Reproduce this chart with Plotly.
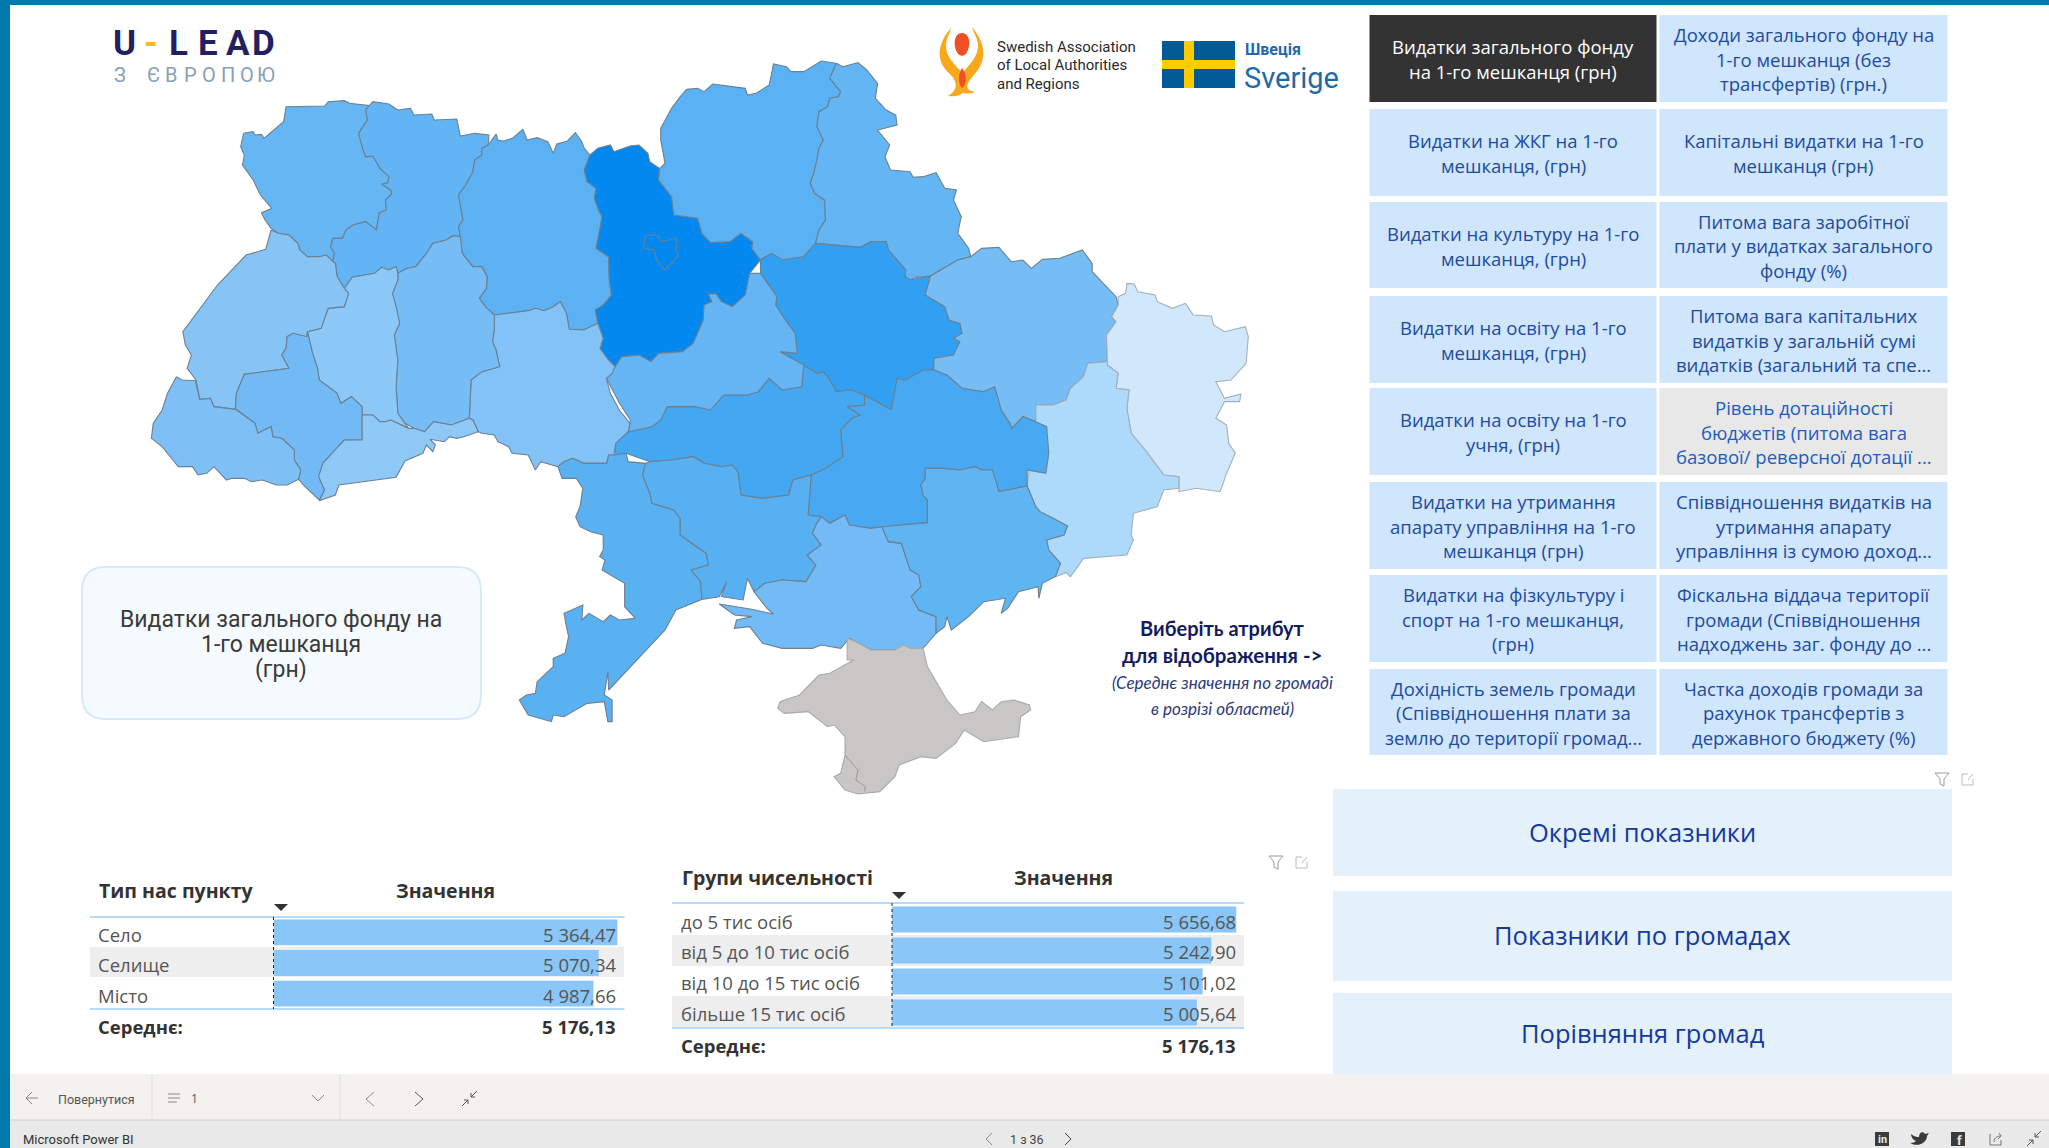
import plotly.graph_objects as go

W, H = 2049, 1148

# ---------- data ----------
settlement_types = ["Село", "Селище", "Місто"]
settlement_values = [5364.47, 5070.34, 4987.66]
population_groups = ["до 5 тис осіб", "від 5 до 10 тис осіб", "від 10 до 15 тис осіб", "більше 15 тис осіб"]
population_values = [5656.68, 5242.90, 5101.02, 5005.64]
average_value = 5176.13

left_buttons = [
    ["Видатки загального фонду", "на 1-го мешканця (грн)"],
    ["Видатки на ЖКГ на 1-го", "мешканця, (грн)"],
    ["Видатки на культуру на 1-го", "мешканця, (грн)"],
    ["Видатки на освіту на 1-го", "мешканця, (грн)"],
    ["Видатки на освіту на 1-го", "учня, (грн)"],
    ["Видатки на утримання", "апарату управління на 1-го", "мешканця (грн)"],
    ["Видатки на фізкультуру і", "спорт на 1-го мешканця,", "(грн)"],
    ["Дохідність земель громади", "(Співвідношення плати за", "землю до території громад..."],
]
right_buttons = [
    ["Доходи загального фонду на", "1-го мешканця (без", "трансфертів) (грн.)"],
    ["Капітальні видатки на 1-го", "мешканця (грн)"],
    ["Питома вага заробітної", "плати у видатках загального", "фонду (%)"],
    ["Питома вага капітальних", "видатків у загальній сумі", "видатків (загальний та спе..."],
    ["Рівень дотаційності", "бюджетів (питома вага", "базової/ реверсної дотації ..."],
    ["Співвідношення видатків на", "утримання апарату", "управління із сумою доход..."],
    ["Фіскальна віддача території", "громади (Співвідношення", "надходжень заг. фонду до ..."],
    ["Частка доходів громади за", "рахунок трансфертів з", "державного бюджету (%)"],
]
big_buttons = ["Окремі показники", "Показники по громадах", "Порівняння громад"]


def L(pts):
    return [(130 + x / 2.8, 40 + y / 3) for x, y in pts]


def R(pts):
    return [(600 + x / 2.306, 40 + y / 3) for x, y in pts]


regions = {
    "Волинська": ("#66b6f4", L([(318,280),(345,275),(350,285),(368,283),(375,295),(430,245),(437,200),(545,198),(555,185),(600,182),(615,190),(670,197),(660,210),(665,240),(640,280),(650,320),(660,350),(680,348),(700,385),(725,410),(722,428),(705,432),(730,450),(733,462),(715,480),(718,510),(698,518),(690,570),(660,545),(625,555),(605,570),(595,595),(568,595),(562,620),(572,640),(568,665),(550,645),(530,650),(497,650),(475,630),(470,610),(445,585),(415,580),(395,565),(378,540),(368,518),(397,505),(365,465),(345,420),(315,375),(320,345),(310,320)])),
    "Рівненська": ("#62b4f4", L([(670,197),(680,185),(725,192),(750,210),(785,205),(795,225),(845,222),(852,240),(915,237),(925,288),(965,280),(1005,285),(1003,315),(985,325),(985,345),(965,360),(960,395),(940,435),(920,465),(925,490),(932,540),(920,560),(925,590),(905,587),(885,600),(848,610),(830,640),(800,680),(775,685),(750,700),(745,680),(725,690),(705,682),(685,700),(622,712),(600,745),(580,710),(575,670),(568,665),(572,640),(562,620),(568,595),(595,595),(605,570),(625,555),(660,545),(690,570),(698,518),(718,510),(715,480),(733,462),(730,450),(705,432),(722,428),(725,410),(700,385),(680,348),(660,350),(650,320),(640,280),(665,240),(660,210)])),
    "Житомирська": ("#5cb1f3", L([(1003,315),(1025,282),(1030,300),(1045,303),(1070,295),(1100,268),(1112,300),(1140,293),(1170,305),(1185,340),(1195,312),(1225,303),(1247,278),(1265,305),(1272,325),(1288,345),(1272,390),(1280,425),(1305,445),(1300,475),(1312,510),(1322,530),(1315,570),(1305,625),(1340,650),(1342,720),(1348,765),(1325,795),(1303,810),(1310,850),(1270,870),(1230,868),(1222,820),(1205,785),(1185,800),(1160,812),(1135,805),(1115,812),(1020,825),(995,800),(978,775),(998,745),(1000,710),(985,680),(960,680),(930,640),(925,590),(920,560),(932,540),(925,490),(920,465),(940,435),(960,395),(965,360),(985,345),(985,325)])),
    "Київська": ("#0288ef", L([(1288,345),(1310,325),(1345,315),(1355,335),(1400,318),(1425,315),(1450,340),(1455,365),(1482,385)]) + R([(135,420),(165,470),(170,525),(225,535),(235,580),(255,608),(300,605),(325,580),(352,605),(350,625),(370,660),(345,700),(335,765),(305,800),(280,785),(268,762),(250,762),(258,785),(240,795),(238,840),(215,910),(190,935),(135,940),(118,965),(90,945),(50,950),(35,980),(20,960),(0,930)]) + L([(1325,895),(1310,850),(1303,810),(1325,795),(1348,765),(1342,720),(1340,650),(1305,625),(1315,570),(1322,530),(1312,510),(1300,475),(1305,445),(1280,425),(1272,390)])),
    "м. Київ": ("#0288ef", R([(105,585),(135,585),(140,605),(178,595),(175,625),(180,650),(150,690),(130,660),(125,630),(100,625)])),
    "Чернігівська": ("#5ab1f3", R([(138,385),(150,370),(140,300),(140,265),(165,205),(185,170),(200,148),(225,145),(240,155),(260,132),(335,145),(340,165),(360,160),(390,135),(395,105),(400,72),(430,80),(440,95),(470,95),(510,63),(545,70),(530,115),(555,155),(550,170),(530,175),(525,200),(505,215),(500,260),(515,300),(505,325),(500,360),(493,400),(485,430),(495,460),(518,480),(520,540),(505,570),(497,610),(470,650),(420,660),(395,640),(370,660),(350,625),(352,605),(325,580),(300,605),(255,608),(235,580),(225,535),(170,525),(165,470),(135,420)])),
    "Сумська": ("#64b5f4", R([(545,70),(560,80),(595,68),(615,90),(640,130),(635,175),(660,210),(682,225),(685,255),(640,270),(668,315),(657,350),(670,390),(715,395),(722,412),(745,410),(775,398),(795,445),(822,450),(815,480),(833,530),(825,580),(850,625),(855,650),(825,660),(800,680),(762,708),(730,712),(715,720),(703,710),(705,690),(665,630),(660,605),(625,605),(600,622),(540,615),(497,610),(505,570),(520,540),(518,480),(495,460),(485,430),(493,400),(500,360),(505,325),(515,300),(500,260),(505,215),(525,200),(530,175),(550,170),(555,155),(530,115)])),
    "Полтавська": ("#31a0f2", R([(497,610),(540,615),(600,622),(625,605),(660,605),(665,630),(705,690),(703,710),(715,720),(762,708),(750,765),(795,800),(805,840),(830,850),(835,880),(815,895),(830,905),(815,945),(770,955),(768,990),(745,990),(705,1020),(685,1015),(672,1110),(610,1065),(580,1050),(545,1055),(530,1020),(515,995),(500,1000),(470,975),(415,935),(455,940),(450,880),(425,835),(405,795),(408,770),(370,700),(370,660),(395,640),(420,660),(470,650)])),
    "Харківська": ("#77bdf5", R([(762,708),(800,680),(825,660),(855,650),(880,625),(920,622),(948,665),(975,660),(995,685),(1020,658),(1060,655),(1112,630),(1135,670),(1135,695),(1165,735),(1190,770),(1195,795),(1180,830),(1190,845),(1168,885),(1170,965),(1125,970),(1115,1010),(1085,1045),(1075,1080),(1045,1095),(1005,1095),(1005,1145),(975,1130),(950,1165),(945,1150),(925,1110),(910,1040),(885,1055),(835,1045),(800,1005),(770,990),(770,955),(815,945),(830,905),(815,895),(835,880),(830,850),(805,840),(795,800),(750,765)])),
    "Луганська": ("#d0e7fc", R([(1195,770),(1212,760),(1215,730),(1232,732),(1240,755),(1280,765),(1285,785),(1320,805),(1350,790),(1368,825),(1410,828),(1415,855),(1440,875),(1488,860),(1495,890),(1490,970),(1455,1020),(1420,1025),(1440,1075),(1478,1062),(1475,1085),(1440,1085),(1420,1135),(1445,1155),(1450,1210),(1465,1240),(1445,1300),(1430,1355),(1375,1345),(1335,1355),(1335,1310),(1300,1305),(1260,1235),(1245,1210),(1225,1180),(1215,1105),(1220,1050),(1190,1045),(1195,1000),(1170,975),(1170,965),(1168,885),(1190,845),(1180,830),(1195,795)])),
    "Донецька": ("#addafb", R([(1005,1095),(1045,1095),(1075,1080),(1085,1045),(1115,1010),(1125,970),(1170,965),(1170,975),(1195,1000),(1190,1045),(1220,1050),(1215,1105),(1225,1180),(1245,1210),(1260,1235),(1300,1305),(1335,1310),(1335,1345),(1300,1350),(1285,1400),(1230,1420),(1225,1485),(1230,1500),(1215,1545),(1115,1555),(1085,1610),(1075,1598),(1050,1610),(1062,1570),(1035,1530),(1030,1500),(1070,1485),(1078,1458),(1045,1435),(1015,1415),(1005,1400),(985,1338),(990,1288),(1028,1295),(1032,1255),(1020,1200),(1030,1170),(1005,1150)])),
    "Дніпропетровська": ("#48a9f2", R([(672,1110),(685,1015),(705,1020),(745,990),(770,990),(800,1005),(835,1045),(885,1055),(910,1040),(925,1110),(945,1150),(950,1165),(975,1130),(1005,1145),(1030,1160),(1035,1240),(1028,1300),(985,1290),(985,1338),(920,1355),(905,1290),(880,1290),(865,1280),(830,1290),(790,1285),(750,1285),(750,1315),(740,1335),(745,1365),(755,1380),(755,1448),(650,1460),(625,1465),(575,1455),(565,1425),(530,1450),(510,1430),(480,1425),(487,1305),(520,1285),(560,1250),(555,1170),(580,1135),(600,1125),(570,1100),(610,1095),(610,1065)])),
    "Кіровоградська": ("#43a7f1", R([(50,1180),(120,1160),(140,1140),(155,1100),(220,1100),(255,1110),(285,1065),(340,1065),(365,1055),(390,1015),(420,1050),(465,1040),(470,975),(500,1000),(515,995),(530,1020),(545,1055),(580,1050),(610,1065),(610,1095),(570,1100),(600,1125),(580,1135),(555,1170),(560,1250),(520,1285),(487,1305),(445,1320),(435,1365),(375,1375),(325,1365),(318,1295),(305,1275),(280,1280),(240,1270),(215,1250),(165,1260),(115,1265),(60,1240),(35,1245),(35,1195)])),
    "Черкаська": ("#65b5f4", R([(35,980),(50,950),(90,945),(118,965),(135,940),(190,935),(215,910),(238,840),(240,795),(258,785),(250,762),(268,762),(280,785),(305,800),(335,765),(345,700),(370,700),(408,770),(405,795),(425,835),(450,880),(455,940),(415,935),(470,975),(465,1040),(420,1050),(390,1015),(365,1055),(340,1065),(285,1065),(255,1110),(220,1100),(155,1100),(140,1140),(120,1160),(65,1175),(70,1140),(45,1090),(25,1040),(15,1015)])),
    "Вінницька": ("#82c2f6", L([(1020,825),(1115,812),(1135,805),(1160,812),(1185,800),(1205,785),(1222,820),(1230,868),(1270,870),(1310,850),(1325,895),(1316,925),(1340,960),(1358,980),(1350,1000),(1334,1015),(1345,1060),(1370,1110),(1400,1150),(1395,1175),(1360,1210),(1355,1245),(1340,1245),(1335,1270),(1270,1270),(1240,1255),(1215,1265),(1198,1280),(1150,1265),(1135,1290),(1115,1245),(1070,1240),(1060,1220),(1030,1205),(1020,1185),(985,1180),(975,1175),(960,1140),(950,1135),(955,1020),(985,995),(1035,980),(1025,930),(1015,905),(1020,870)])),
    "Хмельницька": ("#76bcf5", L([(750,700),(775,685),(800,680),(830,640),(848,610),(885,600),(905,587),(925,590),(930,640),(960,680),(985,680),(1000,710),(998,745),(978,775),(995,800),(1020,825),(1020,870),(1015,905),(1025,930),(1035,980),(985,995),(955,1020),(950,1135),(900,1155),(850,1145),(825,1175),(795,1165),(770,1150),(750,1120),(745,1040),(750,960),(740,885),(755,850),(745,800),(735,760),(750,720)])),
    "Тернопільська": ("#8cc8f7", L([(600,745),(622,712),(685,700),(705,682),(725,690),(745,680),(750,700),(750,720),(735,760),(745,800),(755,850),(740,885),(750,960),(745,1040),(750,1120),(770,1150),(780,1165),(730,1140),(715,1145),(700,1145),(680,1125),(650,1125),(650,1100),(620,1070),(590,1090),(580,1060),(560,1045),(530,1020),(525,985),(510,935),(497,875),(535,865),(555,805),(600,800),(612,760)])),
    "Львівська": ("#86c4f6", L([(395,570),(415,580),(445,585),(470,610),(475,630),(497,650),(530,650),(550,645),(568,665),(575,670),(580,710),(600,745),(612,760),(600,800),(555,805),(535,865),(497,875),(495,890),(457,880),(440,890),(437,925),(425,945),(445,985),(320,1003),(298,1060),(295,1108),(235,1100),(225,1075),(195,1078),(185,1020),(160,985),(172,945),(155,915),(148,875),(245,735),(325,645),(380,628)])),
    "Івано-Франківська": ("#71baf5", L([(320,1003),(445,985),(425,945),(437,925),(440,890),(457,880),(495,890),(497,875),(510,935),(525,985),(530,1020),(560,1045),(580,1060),(590,1090),(620,1070),(650,1100),(650,1125),(650,1200),(600,1200),(565,1240),(540,1270),(528,1310),(545,1350),(530,1380),(490,1340),(472,1318),(478,1290),(460,1260),(460,1230),(425,1195),(400,1190),(395,1160),(358,1180),(350,1150),(295,1105),(298,1060)])),
    "Закарпатська": ("#7ec0f6", L([(130,1010),(145,1020),(183,1022),(195,1078),(225,1075),(235,1100),(295,1108),(350,1150),(358,1180),(395,1160),(400,1190),(425,1195),(460,1230),(460,1260),(478,1290),(472,1318),(440,1335),(410,1335),(370,1320),(340,1325),(320,1315),(285,1315),(270,1320),(235,1280),(215,1300),(190,1305),(175,1280),(135,1280),(120,1260),(90,1220),(60,1195),(65,1150),(90,1110),(105,1060)])),
    "Чернівецька": ("#8dc8f7", L([(650,1125),(680,1125),(700,1145),(715,1145),(730,1140),(780,1165),(795,1165),(825,1175),(850,1145),(900,1155),(950,1135),(960,1140),(975,1175),(935,1190),(915,1195),(895,1190),(880,1205),(855,1200),(840,1198),(855,1215),(848,1235),(830,1215),(820,1240),(770,1263),(745,1312),(585,1335),(575,1365),(530,1382),(545,1350),(528,1310),(540,1270),(565,1240),(600,1200),(650,1200)])),
    "Одеська": ("#5ab1f2", L([(1198,1280),(1215,1265),(1240,1255),(1270,1270),(1335,1270),(1340,1245),(1358,1245)]) + R([(60,1240),(65,1265),(105,1270),(98,1305),(115,1360),(120,1390),(170,1410),(185,1435),(185,1485),(205,1505),(245,1540),(250,1575),(210,1590),(232,1625),(235,1678),(175,1710),(150,1770),(20,1950)]) + L([(1338,1895),(1328,1965),(1350,1980),(1350,2045),(1338,2045),(1328,1985),(1280,1990),(1215,2030),(1185,2025),(1180,2045),(1115,2025),(1090,1980),(1110,1965),(1135,1960),(1140,1925),(1185,1880),(1185,1855),(1218,1840),(1228,1790),(1222,1760),(1215,1720),(1268,1695),(1265,1740),(1285,1720),(1325,1745),(1345,1725),(1370,1740),(1415,1735),(1385,1700),(1385,1630),(1322,1590),(1330,1560),(1315,1550),(1325,1530),(1325,1485),(1290,1475),(1260,1460),(1248,1430),(1260,1400),(1268,1345),(1250,1315),(1210,1315),(1200,1290)])),
    "Миколаївська": ("#57b0f2", R([(98,1305),(105,1270),(115,1265),(165,1260),(215,1250),(240,1270),(280,1280),(305,1275),(318,1295),(325,1365),(375,1375),(435,1365),(445,1320),(487,1305),(480,1425),(510,1430),(498,1455),(490,1480),(510,1515),(478,1545),(498,1575),(475,1625),(420,1620),(380,1630),(355,1655),(340,1615),(330,1680),(280,1670),(292,1625),(275,1670),(235,1678),(232,1625),(210,1590),(250,1575),(245,1540),(205,1505),(185,1485),(185,1435),(170,1410),(120,1390),(115,1360)])),
    "Херсонська": ("#72bbf6", R([(510,1430),(530,1450),(565,1425),(575,1455),(625,1465),(650,1460),(665,1505),(695,1510),(715,1590),(735,1605),(740,1640),(718,1670),(735,1710),(775,1730),(775,1780),(745,1825),(690,1830),(625,1830),(575,1795),(555,1825),(510,1815),(490,1825),(420,1825),(375,1810),(345,1760),(310,1765),(315,1740),(350,1730),(310,1725),(275,1692),(350,1708),(400,1722),(385,1705),(355,1655),(380,1630),(420,1620),(475,1625),(498,1575),(478,1545),(510,1515),(490,1480),(498,1455)])),
    "Запорізька": ("#5fb4f2", R([(750,1285),(790,1285),(830,1290),(865,1280),(880,1290),(905,1290),(920,1355),(985,1338),(1005,1400),(1015,1415),(1045,1435),(1078,1458),(1070,1485),(1030,1500),(1035,1530),(1062,1570),(1050,1610),(1020,1630),(1012,1675),(1010,1640),(965,1655),(940,1705),(925,1720),(935,1675),(885,1685),(850,1730),(810,1770),(800,1730),(795,1760),(775,1780),(775,1730),(735,1710),(718,1670),(740,1640),(735,1605),(715,1590),(695,1510),(665,1505),(650,1460),(755,1448),(755,1380),(745,1365),(740,1335),(750,1315)])),
    "АР Крим": ("#c8c7c6", R([(570,1795),(590,1805),(625,1830),(680,1830),(700,1815),(715,1825),(745,1825),(755,1880),(800,1980),(830,2025),(865,2015),(880,1985),(905,2010),(925,1985),(955,1980),(990,1995),(993,2010),(970,2030),(965,2090),(885,2105),(840,2070),(820,2110),(775,2155),(740,2150),(690,2175),(680,2210),(645,2255),(595,2262),(565,2250),(540,2210),(555,2200),(565,2145),(565,2090),(540,2055),(525,2060),(480,2015),(425,2020),(410,2005),(415,1985),(460,1965),(505,1905),(530,1900),(585,1860),(570,1860)])),
}
sevastopol_line = R([(565,2145),(595,2190),(590,2220),(612,2240),(610,2255)])

fig = go.Figure()
shapes, ann = [], []


def rect(x0, y0, x1, y1, fill, line=None, lw=1):
    shapes.append(dict(type="rect", xref="x", yref="y", x0=x0, y0=y0, x1=x1, y1=y1, layer="below",
                       fillcolor=fill, line=dict(color=line or fill, width=lw if line else 0)))


def path(d, fill=None, line=None, lw=1):
    shapes.append(dict(type="path", xref="x", yref="y", path=d, layer="above",
                       fillcolor=fill or "rgba(0,0,0,0)", line=dict(color=line or "rgba(0,0,0,0)", width=lw if line else 0)))


def text(x, y, s, size, color, font="Open Sans", anchor="left", bold=False, italic=False):
    if bold:
        s = f"<b>{s}</b>"
    if italic:
        s = f"<i>{s}</i>"
    ann.append(dict(x=x, y=y, xref="x", yref="y", text=s, showarrow=False, xanchor=anchor, yanchor="middle",
                    align=anchor, font=dict(size=size, color=color, family=font)))


def money(v):
    return f"{v:,.2f}".replace(",", " ").replace(".", ",")


# ---------- frame ----------
rect(0, 0, W, 5, "#0079ad")
rect(0, 0, 10, H, "#0079ad")
rect(10, 1074, W, 1120, "#f3f2f1")
rect(10, 1120, W, H, "#e9e9e9")
shapes.append(dict(type="line", xref="x", yref="y", x0=10, x1=W, y0=1120, y1=1120, layer="below", line=dict(color="#cfcfcf", width=1)))
for sx in (152, 340):
    shapes.append(dict(type="line", xref="x", yref="y", x0=sx, x1=sx, y0=1074, y1=1120, layer="below", line=dict(color="#e0dfde", width=1)))

# ---------- map ----------
for name, (color, outline) in regions.items():
    fig.add_trace(go.Scatter(x=[p[0] for p in outline] + [outline[0][0]], y=[p[1] for p in outline] + [outline[0][1]],
                             mode="lines", fill="toself", fillcolor=color, name=name,
                             line=dict(color="#a9a9a9" if name == "АР Крим" else ("#a3afb8" if name in ("Луганська", "Донецька") else "#6b8092"), width=1.1),
                             hoverinfo="name", showlegend=False))
fig.add_trace(go.Scatter(x=[p[0] for p in sevastopol_line], y=[p[1] for p in sevastopol_line], mode="lines",
                         line=dict(color="#9a9a9a", width=1), hoverinfo="skip", showlegend=False))

# ---------- selection buttons ----------
col_x = [(1369.5, 1656.5), (1659.5, 1947.5)]
row_y = [(15, 102), (109, 196), (202, 288), (296, 383), (388, 475), (482, 569), (575, 662), (669, 755)]
for c, labels in enumerate((left_buttons, right_buttons)):
    for r, lines in enumerate(labels):
        dark = c == 0 and r == 0
        grey = c == 1 and r == 4
        rect(col_x[c][0], row_y[r][0], col_x[c][1], row_y[r][1], "#333333" if dark else ("#e8e8e8" if grey else "#cfe6fc"))
        cy = (row_y[r][0] + row_y[r][1]) / 2 + 0.7
        for i, ln in enumerate(lines):
            text(sum(col_x[c]) / 2, cy + (i - (len(lines) - 1) / 2) * 24.6, ln, 18.5,
                 "#ffffff" if dark else ("#1a5bc4" if grey else "#1e4aa0"), font="Open Sans", anchor="center")

for (y0, y1), label in zip([(789, 876), (891, 981), (993, 1074)], big_buttons):
    rect(1333, y0, 1952, y1, "#e4f1fb")
    text(1642.5, (y0 + y1) / 2 - 1, label, 25.5, "#14399e", anchor="center")

# ---------- info card ----------
path("M 106 567 H 457 Q 481 567 481 591 V 695 Q 481 719 457 719 H 106 Q 82 719 82 695 V 591 Q 82 567 106 567 Z",
     fill="#f5faff", line="#d6e9fb", lw=2)
for y, ln in zip((619, 644, 669), ("Видатки загального фонду на", "1-го мешканця", "(грн)")):
    text(281, y, ln, 23, "#3a3a3a", font="Roboto", anchor="center")

# ---------- hint ----------
text(1222, 628, "Виберіть атрибут", 20, "#141b5e", font="Lato", anchor="center", bold=True)
text(1222, 655, "для відображення -&gt;", 20.5, "#141b5e", font="Lato", anchor="center", bold=True)
text(1222, 682, "(Середнє значення по громаді", 17, "#2c3a78", font="Lato", anchor="center", italic=True)
text(1222, 708, "в розрізі областей)", 17, "#2c3a78", font="Lato", anchor="center", italic=True)

# ---------- logos ----------
for ch, x, col in zip("U-LEAD", (124, 151, 178, 208, 238, 263), ("#231f63", "#fdb827", "#231f63", "#231f63", "#231f63", "#231f63")):
    text(x, 43, ch, 35, col, font="Roboto", anchor="center", bold=True)
for ch, x in zip("ЗЄВРОПОЮ", (120, 154, 171, 190, 209, 228, 247, 266)):
    text(x, 75, ch, 20, "#8aa0b6", font="Roboto", anchor="center")
path("M 951 28 C 936 45 936 62 950 74 C 958 82 958 90 948 96 C 962 98 970 90 966 78 C 960 68 946 60 946 46 C 946 38 950 34 951 28 Z", fill="#f7a81b")
path("M 972 27 C 987 45 987 62 973 76 C 966 84 964 90 975 92 C 965 96 958 92 958 84 C 958 72 978 62 978 46 C 978 38 974 34 972 27 Z", fill="#f7a81b")
path("M 962 33 C 970 33 971 45 967 52 C 965 57 959 57 957 52 C 953 45 954 33 962 33 Z", fill="#f04e23")
path("M 962 68 C 967 74 967 84 962 88 C 958 84 958 74 962 68 Z", fill="#f04e23")
for y, ln in zip((47, 65, 84), ("Swedish Association", "of Local Authorities", "and Regions")):
    text(995, y, ln, 15, "#2b2b2b", font="Roboto")
rect(1162, 41, 1235, 88, "#005a96")
rect(1184, 41, 1194, 88, "#fecc00")
rect(1162, 60, 1235, 69, "#fecc00")
text(1243, 49, "Швеція", 16, "#1e6aa8", font="Roboto", bold=True)
text(1242, 78, "Sverige", 29, "#1e6aa8", font="Roboto")

# ---------- table 1 ----------
TX = "Open Sans"
text(97, 890, "Тип нас пункту", 19.5, "#333333", font=TX, bold=True)
text(445, 890, "Значення", 19.5, "#333333", font=TX, anchor="center", bold=True)
path("M 274 904 L 288 904 L 281 911 Z", fill="#333333")
rect(90, 947, 624, 977, "#eeeeee")
for y in (917, 1009):
    shapes.append(dict(type="line", xref="x", yref="y", x0=90, x1=624.5, y0=y, y1=y, layer="below", line=dict(color="#b7dbfa", width=2)))
for y, lab, val in zip((934, 964.5, 995), settlement_types, settlement_values):
    text(96, y, lab, 18.5, "#555555", font=TX)
    text(618, y, money(val), 18.5, "#555555", font=TX, anchor="right")
text(96, 1026, "Середнє:", 18.5, "#333333", font=TX, bold=True)
text(618, 1026, money(average_value), 18.5, "#333333", font=TX, anchor="right", bold=True)
shapes.append(dict(type="line", xref="x", yref="y", x0=273.5, x1=273.5, y0=917, y1=1009, layer="above", line=dict(color="#222222", width=1, dash="dot")))

# ---------- table 2 ----------
text(680, 877, "Групи чисельності", 19.5, "#333333", font=TX, bold=True)
text(1063, 877, "Значення", 19.5, "#333333", font=TX, anchor="center", bold=True)
path("M 892 892 L 906 892 L 899 899 Z", fill="#333333")
rect(672, 935, 1244, 966, "#eeeeee")
rect(672, 996, 1244, 1028, "#eeeeee")
for y in (903, 1028):
    shapes.append(dict(type="line", xref="x", yref="y", x0=672, x1=1244, y0=y, y1=y, layer="below", line=dict(color="#b7dbfa", width=2)))
for y, lab, val in zip((921, 951.5, 982.5, 1013.5), population_groups, population_values):
    text(679, y, lab, 18.5, "#555555", font=TX)
    text(1237.5, y, money(val), 18.5, "#555555", font=TX, anchor="right")
text(679, 1045.5, "Середнє:", 18.5, "#333333", font=TX, bold=True)
text(1237.5, 1045.5, money(average_value), 18.5, "#333333", font=TX, anchor="right", bold=True)
shapes.append(dict(type="line", xref="x", yref="y", x0=892, x1=892, y0=903, y1=1028, layer="above", line=dict(color="#222222", width=1, dash="dot")))

fig.add_trace(go.Bar(x=settlement_values, y=settlement_types, orientation="h", xaxis="x2", yaxis="y2",
                     marker=dict(color="#8ac6f7", line=dict(width=0)), width=0.84, showlegend=False))
fig.add_trace(go.Bar(x=population_values, y=population_groups, orientation="h", xaxis="x3", yaxis="y3",
                     marker=dict(color="#8ac6f7", line=dict(width=0)), width=0.84, showlegend=False))

# ---------- toolbar icons ----------
GI = "#8a8886"
path("M 38 1098 H 26 M 32 1092 L 26 1098 L 32 1104", line=GI)
text(56, 1099, "Повернутися", 12.5, "#555555", font="Roboto")
path("M 168 1094 H 180 M 168 1098 H 180 M 168 1102 H 177", line=GI)
text(189, 1098, "1", 12, "#555555", font=TX)
path("M 312 1095 L 318 1101 L 324 1095", line=GI)
path("M 374 1092 L 366 1099 L 374 1106", line=GI)
path("M 415 1092 L 423 1099 L 415 1106", line="#555555")
path("M 462 1106 L 468 1100 M 464 1100 H 468 V 1104 M 477 1091 L 471 1097 M 475 1097 H 471 V 1093", line="#555555")
text(21, 1139, "Microsoft Power BI", 13, "#333333", font="Roboto")
path("M 992 1133 L 986 1139 L 992 1145", line=GI)
text(1027, 1139, "1 з 36", 12.5, "#444444", font="Roboto", anchor="center")
path("M 1065 1133 L 1071 1139 L 1065 1145", line="#444444")
rect(1875, 1132, 1889, 1146, "#3b3b3b")
text(1882, 1139, "in", 11, "#e9e9e9", font="Roboto", anchor="center", bold=True)
path("M 1911 1134 C 1915 1137 1917 1137 1919 1137 C 1919 1132 1923 1131 1925 1134 L 1929 1133 L 1927 1136 C 1927 1142 1919 1148 1910 1143 C 1913 1143 1915 1142 1916 1141 C 1913 1140 1911 1137 1911 1134 Z", fill="#3b3b3b")
rect(1951, 1132, 1965, 1146, "#3b3b3b")
text(1959, 1140, "f", 13, "#e9e9e9", font="Roboto", anchor="center", bold=True)
path("M 1990 1134 V 1145 H 2001 V 1140 M 1994 1142 C 1994 1137 1998 1136 2001 1136 L 1999 1133 M 2001 1136 L 1998 1139", line="#777777")
path("M 2027 1146 L 2033 1140 M 2029 1140 H 2033 V 1144 M 2041 1131 L 2035 1137 M 2039 1137 H 2035 V 1133", line="#555555")

# filter / focus icons
for fx, fy in ((1935, 773), (1269, 856)):
    path(f"M {fx} {fy} H {fx+14} L {fx+9} {fy+6} V {fy+13} L {fx+5} {fy+11} V {fy+6} Z", line="#999999")
    path(f"M {fx+33} {fy+1} H {fx+27} V {fy+12} H {fx+38} V {fy+6} M {fx+33} {fy+7} L {fx+38} {fy+1}", line="#bbbbbb")

fig.update_layout(
    width=W, height=H, margin=dict(l=0, r=0, t=0, b=0), paper_bgcolor="#ffffff", plot_bgcolor="rgba(0,0,0,0)",
    barmode="overlay", hovermode="closest", shapes=shapes, annotations=ann,
    xaxis=dict(range=[0, W], domain=[0, 1], visible=False, fixedrange=True),
    yaxis=dict(range=[H, 0], domain=[0, 1], visible=False, fixedrange=True),
    xaxis2=dict(range=[0, settlement_values[0]], domain=[273.5 / W, 617.6 / W], anchor="y2", visible=False),
    yaxis2=dict(domain=[1 - 1009 / H, 1 - 917 / H], anchor="x2", visible=False, autorange="reversed", type="category"),
    xaxis3=dict(range=[0, population_values[0]], domain=[892 / W, 1236.5 / W], anchor="y3", visible=False),
    yaxis3=dict(domain=[1 - 1028 / H, 1 - 904 / H], anchor="x3", visible=False, autorange="reversed", type="category"),
)
fig.write_html("out.html", config=dict(displayModeBar=False),
               post_script="document.body.style.margin='0';document.body.style.overflow='hidden';")
